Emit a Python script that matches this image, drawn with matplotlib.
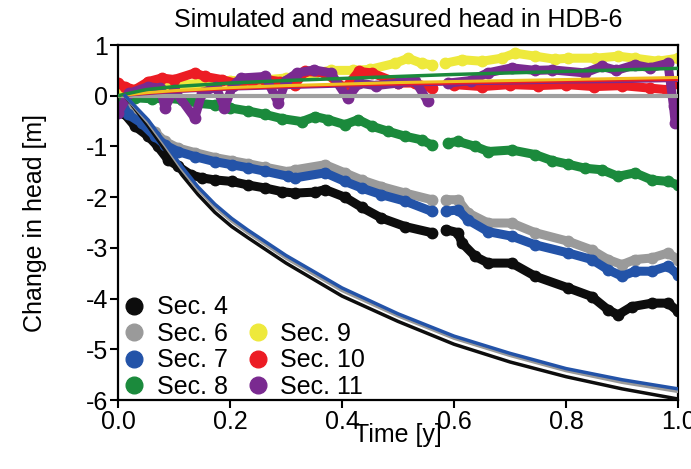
import numpy as np
import matplotlib
matplotlib.use("Agg")
import matplotlib.pyplot as plt
from matplotlib.lines import Line2D

plt.rcParams['font.family'] = ['Liberation Sans', 'DejaVu Sans']
plt.rcParams['axes.unicode_minus'] = False

nan = np.nan

# ---------------- measured data ----------------
t_sec4 = [0.0, 0.01, 0.03, 0.054, 0.071, 0.089, 0.107, 0.13, 0.15, 0.173, 0.203, 0.232, 0.263, 0.292,
          0.316, 0.352, 0.37, 0.405, 0.435, 0.47, 0.513, 0.56, 0.572, 0.585, 0.607, 0.614, 0.638, 0.661,
          0.703, 0.745, 0.804, 0.846, 0.875, 0.893, 0.917, 0.953, 0.982, 1.0]
h_sec4 = [-0.3, -0.34, -0.6, -0.8, -1.0, -1.26, -1.39, -1.56, -1.62, -1.66, -1.69, -1.76, -1.82, -1.89,
          -1.92, -1.9, -1.85, -2.0, -2.2, -2.41, -2.58, -2.7, nan, -2.64, -2.7, -2.9, -3.17, -3.3,
          -3.3, -3.56, -3.79, -3.96, -4.22, -4.32, -4.16, -4.09, -4.09, -4.25]

t_sec67 = [0.0, 0.007, 0.018, 0.042, 0.066, 0.084, 0.107, 0.137, 0.173, 0.203, 0.232, 0.263, 0.304,
           0.316, 0.37, 0.405, 0.435, 0.47, 0.513, 0.56, 0.572, 0.585, 0.607, 0.625, 0.661, 0.703,
           0.745, 0.804, 0.846, 0.875, 0.9, 0.923, 0.953, 0.982, 1.0]
h_sec6 = [-0.05, -0.1, -0.3, -0.48, -0.72, -0.9, -1.03, -1.12, -1.22, -1.28, -1.34, -1.41, -1.5,
          -1.46, -1.36, -1.52, -1.66, -1.79, -1.92, -2.05, nan, -2.05, -2.05, -2.31, -2.51, -2.51,
          -2.7, -2.87, -3.04, -3.23, -3.33, -3.23, -3.2, -3.1, -3.23]
h_sec7 = [-0.1, -0.14, -0.37, -0.54, -0.8, -0.97, -1.1, -1.2, -1.3, -1.36, -1.42, -1.49, -1.59,
          -1.62, -1.52, -1.69, -1.82, -1.95, -2.08, -2.28, nan, -2.28, -2.25, -2.45, -2.68, -2.77,
          -2.94, -3.1, -3.23, -3.43, -3.56, -3.46, -3.46, -3.36, -3.53]

t_sec8 = [0.0, 0.03, 0.06, 0.09, 0.114, 0.143, 0.173, 0.2, 0.232, 0.263, 0.292, 0.328, 0.352, 0.375,
          0.405, 0.429, 0.453, 0.482, 0.513, 0.542, 0.56, 0.572, 0.59, 0.607, 0.638, 0.661, 0.703,
          0.745, 0.775, 0.804, 0.834, 0.864, 0.893, 0.923, 0.953, 0.982, 1.0]
h_sec8 = [0.0, -0.04, -0.06, -0.05, -0.08, -0.15, -0.18, -0.24, -0.3, -0.37, -0.45, -0.51, -0.41, -0.47,
          -0.57, -0.47, -0.6, -0.7, -0.8, -0.87, -0.97, nan, -0.93, -0.9, -1.0, -1.1, -1.07,
          -1.16, -1.28, -1.35, -1.43, -1.46, -1.59, -1.52, -1.66, -1.69, -1.76]

t_sec9 = [0.0, 0.05, 0.1, 0.15, 0.2, 0.25, 0.3, 0.35, 0.38, 0.42, 0.45, 0.495, 0.518, 0.542, 0.56,
          0.572, 0.584, 0.614, 0.65, 0.685, 0.709, 0.745, 0.78, 0.804, 0.852, 0.893, 0.923, 0.964, 1.0]
h_sec9 = [0.1, 0.15, 0.2, 0.25, 0.3, 0.3, 0.35, 0.45, 0.5, 0.5, 0.52, 0.64, 0.74, 0.64, 0.61,
          nan, 0.64, 0.71, 0.68, 0.74, 0.84, 0.78, 0.72, 0.74, 0.74, 0.78, 0.74, 0.68, 0.74]

t_sec10 = [0.0, 0.012, 0.03, 0.054, 0.078, 0.1, 0.137, 0.155, 0.185, 0.209, 0.24, 0.263, 0.29, 0.316,
           0.334, 0.37, 0.405, 0.43, 0.453, 0.5, 0.53, 0.56, 0.572, 0.6, 0.65, 0.7, 0.75, 0.8, 0.85,
           0.9, 0.95, 0.98, 1.0]
h_sec10 = [0.25, 0.18, 0.12, 0.28, 0.35, 0.32, 0.45, 0.38, 0.32, 0.25, 0.3, 0.32, 0.28, 0.22,
           0.48, 0.45, 0.15, 0.48, 0.45, 0.25, 0.25, 0.15, nan, 0.22, 0.18, 0.22, 0.2, 0.22, 0.18,
           0.2, 0.15, 0.12, 0.25]

t_sec11 = [0.0, 0.02, 0.054, 0.075, 0.084, 0.1, 0.137, 0.15, 0.175, 0.19, 0.205, 0.22, 0.263, 0.286,
           0.3, 0.32, 0.35, 0.38, 0.41, 0.43, 0.46, 0.5, 0.53, 0.553, 0.572, 0.59, 0.63, 0.66, 0.703,
           0.745, 0.775, 0.834, 0.864, 0.89, 0.923, 0.95, 0.982, 0.992, 0.995]
h_sec11 = [-0.34, 0.05, 0.18, 0.15, -0.24, 0.12, -0.44, 0.05, 0.18, -0.24, 0.2, 0.35, 0.38, -0.14,
           0.3, 0.45, 0.51, 0.45, -0.05, 0.25, 0.2, 0.25, 0.3, -0.11, nan, 0.25, 0.3, 0.45, 0.55,
           0.5, 0.51, 0.45, 0.58, 0.5, 0.61, 0.55, 0.64, -0.21, -0.54]

# ---------------- simulated data ----------------
t_sim_low = [0.0125, 0.054, 0.084, 0.114, 0.143, 0.173, 0.203, 0.232, 0.3, 0.4, 0.5, 0.6, 0.7, 0.8, 0.9, 1.0]
h_sim4 = [0.0, -0.6, -1.07, -1.56, -1.95, -2.3, -2.58, -2.8, -3.3, -3.95, -4.45, -4.9, -5.25, -5.54, -5.78, -5.98]
h_sim6 = [0.0, -0.53, -0.98, -1.45, -1.85, -2.19, -2.47, -2.7, -3.2, -3.84, -4.34, -4.78, -5.12, -5.42, -5.65, -5.83]
h_sim7 = [0.0, -0.48, -0.93, -1.4, -1.8, -2.14, -2.42, -2.65, -3.15, -3.79, -4.3, -4.74, -5.08, -5.38, -5.6, -5.78]

t_sim_up = [0.0, 0.05, 0.1, 0.2, 0.3, 0.4, 0.5, 0.6, 0.7, 0.8, 0.9, 1.0]
h_sim8 = [0.0, 0.12, 0.18, 0.25, 0.3, 0.34, 0.38, 0.42, 0.45, 0.48, 0.51, 0.54]
h_sim9 = [0.0, 0.06, 0.1, 0.16, 0.2, 0.23, 0.26, 0.28, 0.3, 0.32, 0.34, 0.36]
h_sim10 = [0.0, 0.05, 0.09, 0.14, 0.18, 0.21, 0.23, 0.25, 0.27, 0.29, 0.31, 0.32]
h_sim11 = [0.0, 0.04, 0.08, 0.13, 0.16, 0.19, 0.21, 0.23, 0.25, 0.27, 0.28, 0.3]

labels = ["Sec. 4", "Sec. 6", "Sec. 7", "Sec. 8", "Sec. 9", "Sec. 10", "Sec. 11"]
colors = {"Sec. 4": "#0d0d0d", "Sec. 6": "#9a9a9a", "Sec. 7": "#2353a8", "Sec. 8": "#1b8a3c",
          "Sec. 9": "#eee93c", "Sec. 10": "#ec1c24", "Sec. 11": "#7a2a90"}
sim9_color = "#f0c020"

fig = plt.figure(figsize=(6.91, 4.69), dpi=100)
ax = fig.add_axes([0.1708, 0.1471, 0.8104, 0.7569])

meas = [("Sec. 4", t_sec4, h_sec4), ("Sec. 6", t_sec67, h_sec6), ("Sec. 7", t_sec67, h_sec7),
        ("Sec. 8", t_sec8, h_sec8), ("Sec. 9", t_sec9, h_sec9), ("Sec. 10", t_sec10, h_sec10),
        ("Sec. 11", t_sec11, h_sec11)]
for name, t, h in meas:
    ax.plot(t, h, color=colors[name], lw=6.5, marker='o', ms=7.5, solid_capstyle='round',
            solid_joinstyle='round', zorder=2)

ax.axhline(0, color="#a0a0a0", lw=3, zorder=3)
ax.plot(t_sim_up, h_sim11, color=colors["Sec. 11"], lw=2.2, zorder=4)
ax.plot(t_sim_up, h_sim10, color=colors["Sec. 10"], lw=2.2, zorder=4)
ax.plot(t_sim_up, h_sim9, color=sim9_color, lw=2.2, zorder=4)
ax.plot(t_sim_up, h_sim8, color=colors["Sec. 8"], lw=2.5, zorder=4)
ax.plot(t_sim_low, h_sim4, color=colors["Sec. 4"], lw=2.5, zorder=4)
ax.plot(t_sim_low, h_sim6, color=colors["Sec. 6"], lw=2.5, zorder=4)
ax.plot(t_sim_low, h_sim7, color=colors["Sec. 7"], lw=2.5, zorder=4)

ax.set_xlim(0, 1.0)
ax.set_ylim(-6, 1)
ax.set_xticks([0.0, 0.2, 0.4, 0.6, 0.8, 1.0])
ax.set_xticklabels(["0.0", "0.2", "0.4", "0.6", "0.8", "1.0"])
ax.set_yticks([-6, -5, -4, -3, -2, -1, 0, 1])
ax.tick_params(direction='out', length=6, width=1.5, labelsize=18, pad=1)
for s in ax.spines.values():
    s.set_linewidth(1.6)
ax.set_xlabel("Time [y]", fontsize=18, labelpad=-8)
ax.set_ylabel("Change in head [m]", fontsize=18, labelpad=28)
ax.set_title("Simulated and measured head in HDB-6", fontsize=18, pad=13)

def h_(name):
    return Line2D([], [], ls='none', marker='o', ms=12, color=colors[name])
blank = Line2D([], [], ls='none', marker=None)
handles = [h_("Sec. 4"), h_("Sec. 6"), h_("Sec. 7"), h_("Sec. 8"), blank, h_("Sec. 9"), h_("Sec. 10"), h_("Sec. 11")]
lbls = ["Sec. 4", "Sec. 6", "Sec. 7", "Sec. 8", "", "Sec. 9", "Sec. 10", "Sec. 11"]
ax.legend(handles, lbls, loc='lower left', bbox_to_anchor=(0.009, 0.0), ncol=2, frameon=False,
          fontsize=18, handlelength=0.8, handletextpad=0.5, columnspacing=0.8, labelspacing=0.1,
          borderaxespad=0.0, borderpad=0.05)

fig.savefig("out.png", dpi=100)
